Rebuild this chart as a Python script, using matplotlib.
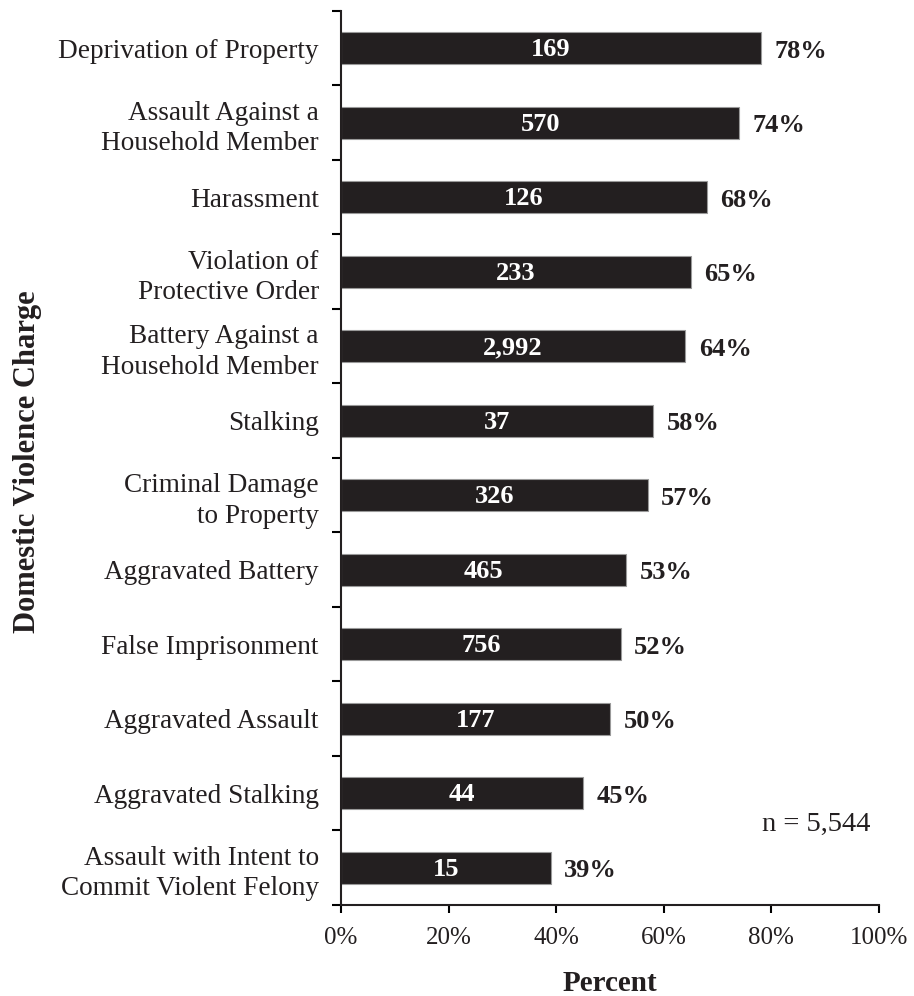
import matplotlib
matplotlib.use("Agg")
import matplotlib.pyplot as plt
import numpy as np

categories = [
    "Deprivation of Property",
    "Assault Against a\nHousehold Member",
    "Harassment",
    "Violation of\nProtective Order",
    "Battery Against a\nHousehold Member",
    "Stalking",
    "Criminal Damage\nto Property",
    "Aggravated Battery",
    "False Imprisonment",
    "Aggravated Assault",
    "Aggravated Stalking",
    "Assault with Intent to\nCommit Violent Felony",
]
percents = [78, 74, 68, 65, 64, 58, 57, 53, 52, 50, 45, 39]
counts = ["169", "570", "126", "233", "2,992", "37", "326", "465", "756", "177", "44", "15"]
xticks = [0, 20, 40, 60, 80, 100]

plt.rcParams['font.family'] = ['Liberation Serif', 'DejaVu Serif']

fig = plt.figure(figsize=(9.14, 9.96), dpi=100)
ax = fig.add_axes([0.3731, 0.0914, 0.9617 - 0.3731, 0.989 - 0.0914])

y = np.arange(len(categories))
ax.barh(y, percents, height=0.43, color="#231f20", edgecolor="#999999", linewidth=0.8)
ax.set_ylim(len(categories) - 0.5, -0.5)
ax.set_xlim(0, 100)

for yi, p, c in zip(y, percents, counts):
    ax.text(p / 2, yi + 0.02, c, color="white", fontweight="bold", fontsize=19,
            ha="center", va="center")
    ax.text(p + 2.5, yi + 0.04, f"{p}%", color="#231f20", fontweight="bold", fontsize=19,
            ha="left", va="center")

ax.set_yticks(y)
ax.set_yticklabels(categories, fontsize=19.6, linespacing=1.28, color="#231f20")
ax.tick_params(axis="y", which="major", length=0, pad=16)
ax.set_yticks(np.arange(-0.5, len(categories), 1.0), minor=True)
ax.tick_params(axis="y", which="minor", length=6.5, width=1.5, direction="out")

ax.set_xticks(xticks)
ax.set_xticklabels([f"{t}%" for t in xticks], fontsize=18, color="#231f20")
ax.tick_params(axis="x", length=6, width=1.5, direction="out", pad=10)

for s in ["top", "right"]:
    ax.spines[s].set_visible(False)
for s in ["left", "bottom"]:
    ax.spines[s].set_linewidth(1.5)
    ax.spines[s].set_color("#231f20")

ax.set_xlabel("Percent", fontsize=21, fontweight="bold", labelpad=15, color="#231f20")
fig.text(0.0306, 0.536, "Domestic Violence Charge", rotation=90, fontsize=22,
         fontweight="bold", ha="center", va="center", color="#231f20")

ax.text(0.985, 10.42, "n = 5,544", fontsize=20.5, ha="right", va="center",
        transform=ax.get_yaxis_transform(), color="#231f20")

fig.savefig("out.png", dpi=100)
